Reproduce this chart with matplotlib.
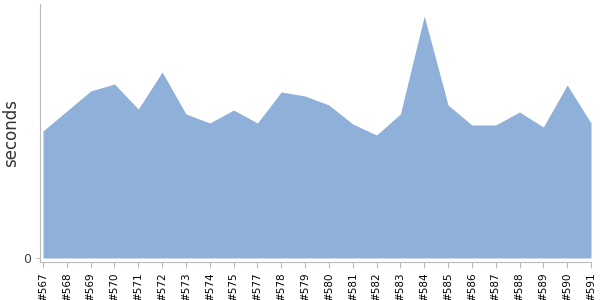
import matplotlib
matplotlib.use("Agg")
import matplotlib.pyplot as plt

# build numbers and their durations
builds = ["#567", "#568", "#569", "#570", "#571", "#572", "#573", "#574",
          "#575", "#577", "#578", "#579", "#580", "#581", "#582", "#583",
          "#584", "#585", "#586", "#587", "#588", "#589", "#590", "#591"]
durations = [127, 147, 167, 174, 149, 186, 144, 135,
             148, 135, 166, 162, 153, 134, 123, 144,
             242, 153, 133, 133, 146, 131, 173, 135]

fig = plt.figure(figsize=(6, 3), dpi=100)
ax = fig.add_axes([40 / 600, 38 / 300, 551 / 600, 258 / 300])

x = list(range(len(builds)))
ax.fill_between(x, durations, 0, color="#8fb1d9", linewidth=0)

ax.set_xlim(-0.126, len(builds) - 1)
ax.set_ylim(-4, 254)

ax.set_xticks(x)
ax.set_xticklabels(builds, rotation=90, fontsize=7.5)
ax.set_yticks([0])
ax.set_yticklabels(["0"], fontsize=9, color="#444444")
ax.set_ylabel("seconds", fontsize=12, color="#333333")
ax.yaxis.set_label_coords(-20 / 551, 0.5)

for side in ("top", "right"):
    ax.spines[side].set_visible(False)
for side in ("left", "bottom"):
    ax.spines[side].set_color("#bbbbbb")
ax.tick_params(axis="x", colors="#bbbbbb", labelcolor="black", length=4)
ax.tick_params(axis="y", colors="#bbbbbb", labelcolor="#444444", length=3)

fig.savefig("out.png", dpi=100)
